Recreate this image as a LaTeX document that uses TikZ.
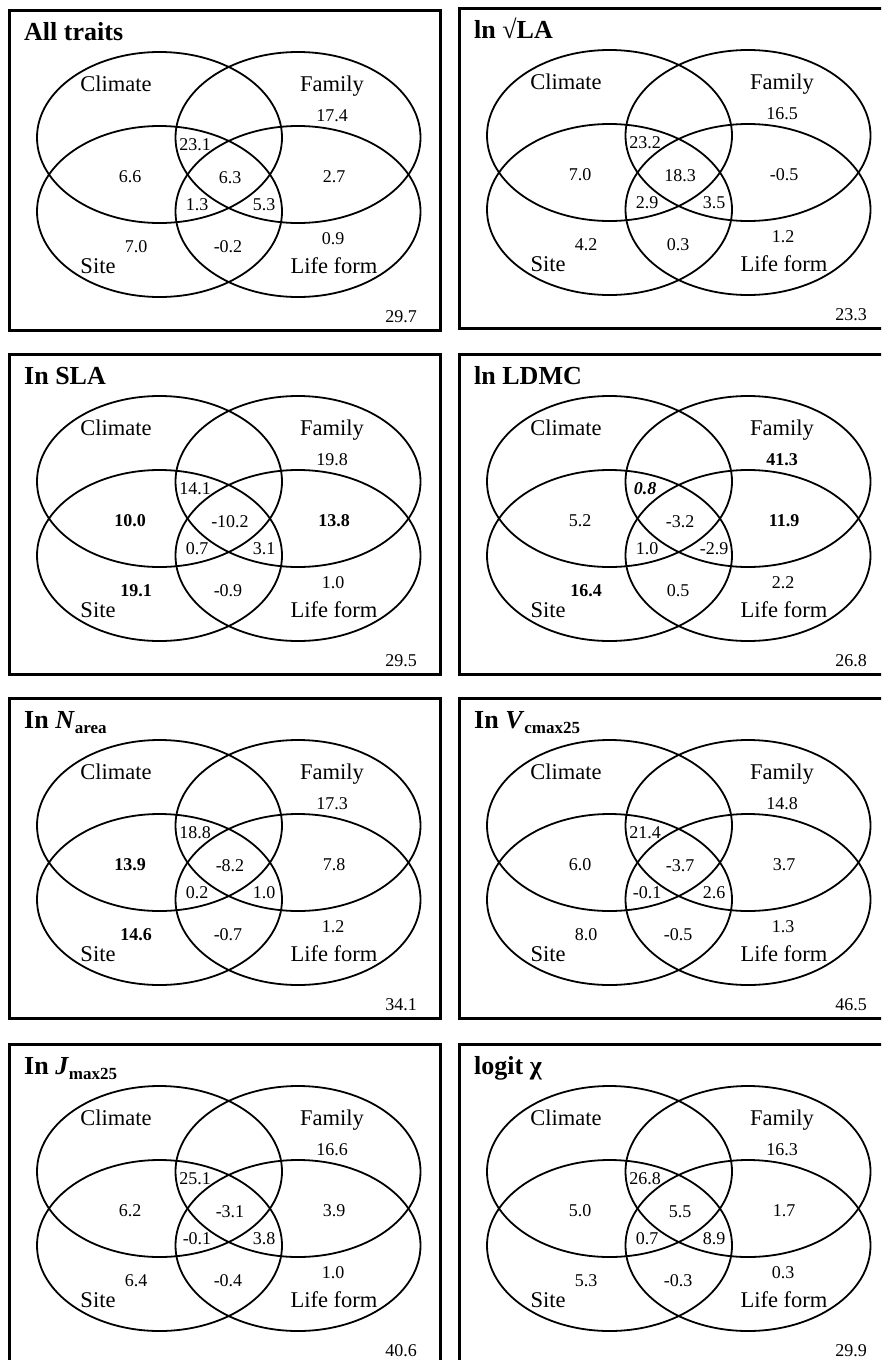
\documentclass[tikz,border=0pt]{standalone}
\usepackage{fontspec}
\setmainfont{Liberation Serif}
\tikzset{
  frame/.style={draw=black, line width=3.2pt},
  ell/.style={draw=black, line width=1.8pt},
  ttl/.style={font=\fontsize{26}{28}\selectfont\bfseries, inner sep=0pt, anchor=base west},
  lab/.style={font=\fontsize{22.5}{24}\selectfont, inner sep=0pt, anchor=base},
  val/.style={font=\fontsize{18}{20}\selectfont, inner sep=0pt},
}
\newcommand\subs[1]{\raisebox{-5pt}{\fontsize{17}{18}\selectfont #1}}
\newcommand\venn[4]{%
  \begin{scope}[shift={(#2,#3)}]
    \draw[frame] (1.6,1.6) rectangle (432.4,321.4);
    \node[ttl] (#1-title) at (16,31) {#4};
    \draw[ell] (151.5,128.5) ellipse [x radius=122.5pt, y radius=85.5pt];
    \draw[ell] (290,128.5) ellipse [x radius=122.5pt, y radius=85.5pt];
    \draw[ell] (151.5,202.5) ellipse [x radius=122.5pt, y radius=85.5pt];
    \draw[ell] (290,202.5) ellipse [x radius=122.5pt, y radius=85.5pt];
    \node[lab] (#1-climate) at (108,82) {Climate};
    \node[lab] (#1-family) at (324,82) {Family};
    \node[lab] (#1-site) at (90,264) {Site};
    \node[lab] (#1-life) at (326,264) {Life form};
  \end{scope}}
\newcommand\vennA[7]{%
  \begin{scope}[shift={(#2,#3)}]
    \node[val] (#1-fam) at (324,107) {#4};
    \node[val] (#1-cf) at (187,136) {#5};
    \node[val] (#1-cs) at (122,168) {#6};
    \node[val] (#1-mid) at (222,169) {#7};
  \end{scope}}
\newcommand\vennB[8]{%
  \begin{scope}[shift={(#2,#3)}]
    \node[val] (#1-fl) at (326,168) {#4};
    \node[val] (#1-ll) at (189,196) {#5};
    \node[val] (#1-lr) at (256,196) {#6};
    \node[val] (#1-s) at (128,238) {#7};
    \node[val] (#1-sl) at (220,238) {#8};
  \end{scope}}
\newcommand\vennC[5]{%
  \begin{scope}[shift={(#2,#3)}]
    \node[val] (#1-l) at (325,230) {#4};
    \node[val] (#1-tot) at (393,308) {#5};
  \end{scope}}
\begin{document}
\begin{tikzpicture}[x=1pt, y=-1pt]
\useasboundingbox (0,0) rectangle (881,1360);
\clip (0,0) rectangle (881,1360);
\fill[white] (0,0) rectangle (881,1360);
% panel 1
\venn{p1}{8}{9}{All traits}
\vennA{p1}{8}{9}{17.4}{23.1}{6.6}{6.3}
\vennB{p1}{8}{9}{2.7}{1.3}{5.3}{7.0}{-0.2}
\vennC{p1}{8}{9}{0.9}{29.7}
% panel 2
\venn{p2}{458}{7}{ln √LA}
\vennA{p2}{458}{7}{16.5}{23.2}{7.0}{18.3}
\vennB{p2}{458}{7}{-0.5}{2.9}{3.5}{4.2}{0.3}
\vennC{p2}{458}{7}{1.2}{23.3}
% panel 3
\venn{p3}{8}{353}{In SLA}
\vennA{p3}{8}{353}{19.8}{14.1}{\textbf{10.0}}{-10.2}
\vennB{p3}{8}{353}{\textbf{13.8}}{0.7}{3.1}{\textbf{19.1}}{-0.9}
\vennC{p3}{8}{353}{1.0}{29.5}
% panel 4
\venn{p4}{458}{353}{ln LDMC}
\vennA{p4}{458}{353}{\textbf{41.3}}{\textbf{\textit{0.8}}}{5.2}{-3.2}
\vennB{p4}{458}{353}{\textbf{11.9}}{1.0}{-2.9}{\textbf{16.4}}{0.5}
\vennC{p4}{458}{353}{2.2}{26.8}
% panel 5
\venn{p5}{8}{697}{In \textit{N}\subs{area}}
\vennA{p5}{8}{697}{17.3}{18.8}{\textbf{13.9}}{-8.2}
\vennB{p5}{8}{697}{7.8}{0.2}{1.0}{\textbf{14.6}}{-0.7}
\vennC{p5}{8}{697}{1.2}{34.1}
% panel 6
\venn{p6}{458}{697}{In \textit{V}\subs{cmax25}}
\vennA{p6}{458}{697}{14.8}{21.4}{6.0}{-3.7}
\vennB{p6}{458}{697}{3.7}{-0.1}{2.6}{8.0}{-0.5}
\vennC{p6}{458}{697}{1.3}{46.5}
% panel 7
\venn{p7}{8}{1043}{In \textit{J}\subs{max25}}
\vennA{p7}{8}{1043}{16.6}{25.1}{6.2}{-3.1}
\vennB{p7}{8}{1043}{3.9}{-0.1}{3.8}{6.4}{-0.4}
\vennC{p7}{8}{1043}{1.0}{40.6}
% panel 8
\venn{p8}{458}{1043}{logit χ}
\vennA{p8}{458}{1043}{16.3}{26.8}{5.0}{5.5}
\vennB{p8}{458}{1043}{1.7}{0.7}{8.9}{5.3}{-0.3}
\vennC{p8}{458}{1043}{0.3}{29.9}
\end{tikzpicture}
\end{document}
